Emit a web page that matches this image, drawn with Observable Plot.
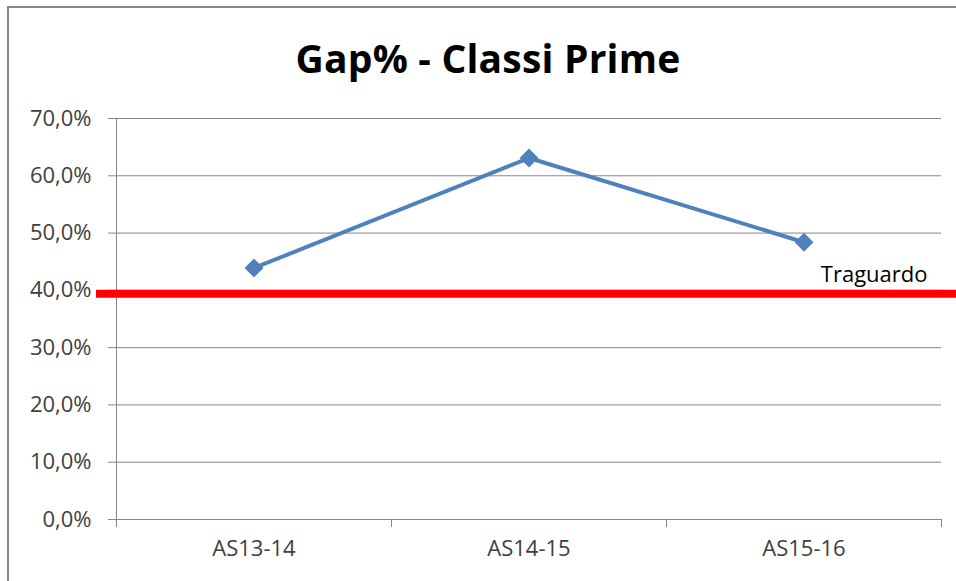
<!DOCTYPE html>
<html>
<head>
<meta charset="utf-8">
<script src="https://cdn.jsdelivr.net/npm/d3@7"></script>
<script src="https://cdn.jsdelivr.net/npm/@observablehq/plot@0.6"></script>
<style>
  html, body { margin: 0; padding: 0; background: #fff; }
  #wrap { position: relative; width: 956px; height: 581px; overflow: hidden; font-family: "Open Sans", Lato, sans-serif; }
  #frame { position: absolute; left: 7px; top: 6px; width: 1000px; height: 700px; border-left: 2px solid #888; border-top: 2px solid #888; }
  #title { position: absolute; left: 0; top: 36px; width: 976px; text-align: center; font-size: 39px; line-height: 44px; font-weight: 700; color: #000; letter-spacing: 0.2px; }
  #chart { position: absolute; left: 0; top: 100px; }
</style>
</head>
<body>
<div id="wrap">
  <div id="frame"></div>
  <div id="title">Gap% - Classi Prime</div>
  <div id="chart"></div>
</div>
<script>
const categories = ["AS13-14", "AS14-15", "AS15-16"];
const gapValues = [43.9, 63.1, 48.4];
const targetValue = 39.4;
const targetLabel = "Traguardo";
const yTicks = [0, 10, 20, 30, 40, 50, 60, 70];

const data = categories.map((c, i) => ({ cat: c, pos: i + 0.5, value: gapValues[i] }));
const fmt = v => v.toFixed(1).replace(".", ",") + "%";

const chart = Plot.plot({
  width: 956,
  height: 481,
  marginTop: 18,
  marginBottom: 62,
  marginLeft: 116,
  marginRight: 15,
  style: { fontFamily: "'Open Sans', Lato, sans-serif", fontSize: "22px", color: "#404040", background: "transparent" },
  x: { domain: [0, categories.length], axis: null },
  y: { domain: [0, 70], axis: null },
  marks: [
    Plot.gridY(yTicks, { stroke: "#868686", strokeOpacity: 1, strokeWidth: 1 }),
    Plot.axisY({ ticks: yTicks, tickFormat: fmt, tickSize: 8, tickPadding: 17, stroke: "#868686", fill: "#404040", fontSize: 22, label: null }),
    Plot.ruleX([0], { stroke: "#868686", strokeWidth: 1 }),
    Plot.axisX({ ticks: d3.range(categories.length + 1), tickFormat: () => "", tickSize: 8, stroke: "#868686", label: null }),
    Plot.axisX({ ticks: data.map(d => d.pos), tickFormat: v => categories[v - 0.5], tickSize: 0, tickPadding: 21, fill: "#404040", fontSize: 22, label: null }),
    Plot.ruleY([targetValue], { stroke: "#ff0000", strokeWidth: 8, insetLeft: -20, insetRight: -20 }),
    Plot.text([targetLabel], { frameAnchor: "right", y: () => targetValue, text: d => d, textAnchor: "end", dx: -14, dy: -19, fill: "#000", fontSize: 22 }),
    Plot.line(data, { x: "pos", y: "value", stroke: "#4f81bd", strokeWidth: 4 }),
    Plot.dot(data, { x: "pos", y: "value", symbol: "diamond2", r: 8.5, fill: "#4f81bd", stroke: "none" })
  ]
});
document.getElementById("chart").appendChild(chart);
</script>
</body>
</html>
